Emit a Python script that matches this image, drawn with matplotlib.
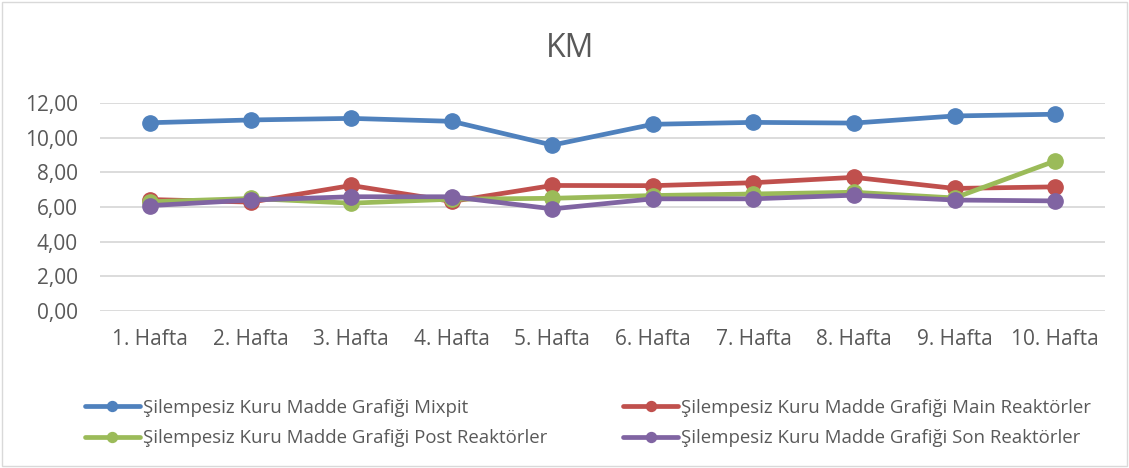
import matplotlib
matplotlib.use("Agg")
import matplotlib.pyplot as plt
from matplotlib.patches import Rectangle

categories = ["1. Hafta", "2. Hafta", "3. Hafta", "4. Hafta", "5. Hafta",
              "6. Hafta", "7. Hafta", "8. Hafta", "9. Hafta", "10. Hafta"]
mixpit = [10.86, 11.02, 11.11, 10.94, 9.57, 10.77, 10.88, 10.84, 11.25, 11.35]
main_reaktor = [6.43, 6.28, 7.24, 6.32, 7.24, 7.23, 7.40, 7.71, 7.07, 7.16]
post_reaktor = [6.30, 6.49, 6.22, 6.45, 6.50, 6.66, 6.75, 6.85, 6.52, 8.65]
son_reaktor = [6.08, 6.40, 6.59, 6.59, 5.89, 6.47, 6.47, 6.68, 6.40, 6.35]
series_names = [
    "Şilempesiz Kuru Madde Grafiği Mixpit",
    "Şilempesiz Kuru Madde Grafiği Main Reaktörler",
    "Şilempesiz Kuru Madde Grafiği Post Reaktörler",
    "Şilempesiz Kuru Madde Grafiği Son Reaktörler",
]
yticks = [0, 2, 4, 6, 8, 10, 12]
title = "KM"

colors = ["#4F81BD", "#C0504D", "#9BBB59", "#8064A2"]
txt = "#595959"
font = "Open Sans"

fig = plt.figure(figsize=(11.29, 4.68), dpi=100)
fig.patches.append(Rectangle((0.002, 0.004), 0.996, 0.992, transform=fig.transFigure,
                             fill=False, edgecolor="#D9D9D9", linewidth=1.0))
ax = fig.add_axes([0.0886, 0.3355, 0.8904, 0.4445])
x = list(range(len(categories)))
handles = []
for vals, c, name in zip([mixpit, main_reaktor, post_reaktor, son_reaktor], colors, series_names):
    h, = ax.plot(x, vals, color=c, lw=3.4, marker="o", markersize=11, label=name,
                 clip_on=False, solid_capstyle="round", zorder=3)
    handles.append(h)

ax.set_xlim(-0.5, len(categories) - 0.5)
ax.set_ylim(0, 12)
ax.set_yticks(yticks)
ax.set_yticklabels([f"{v:.2f}".replace(".", ",") for v in yticks],
                   fontsize=15, color=txt, family=font)
ax.set_xticks(x)
ax.set_xticklabels(categories, fontsize=15, color=txt, family=font)
ax.tick_params(axis="x", length=0, pad=13)
ax.tick_params(axis="y", length=0, pad=16)
ax.grid(axis="y", color="#D9D9D9", lw=1.3)
ax.set_axisbelow(True)
for s in ax.spines.values():
    s.set_visible(False)

fig.text(0.505, 0.897, title, ha="center", va="center", fontsize=23, color=txt, family=font)

order = [0, 2, 1, 3]
leg = fig.legend([handles[i] for i in order], [series_names[i] for i in order],
                 loc="center left", bbox_to_anchor=(0.0753, 0.096), ncol=2,
                 frameon=False, prop={"family": font, "size": 13.4}, labelcolor=txt,
                 handlelength=2.95, handletextpad=0.15, columnspacing=4.1,
                 labelspacing=0.67, markerscale=0.65, borderpad=0, borderaxespad=0)

fig.savefig("out.png", dpi=100)
